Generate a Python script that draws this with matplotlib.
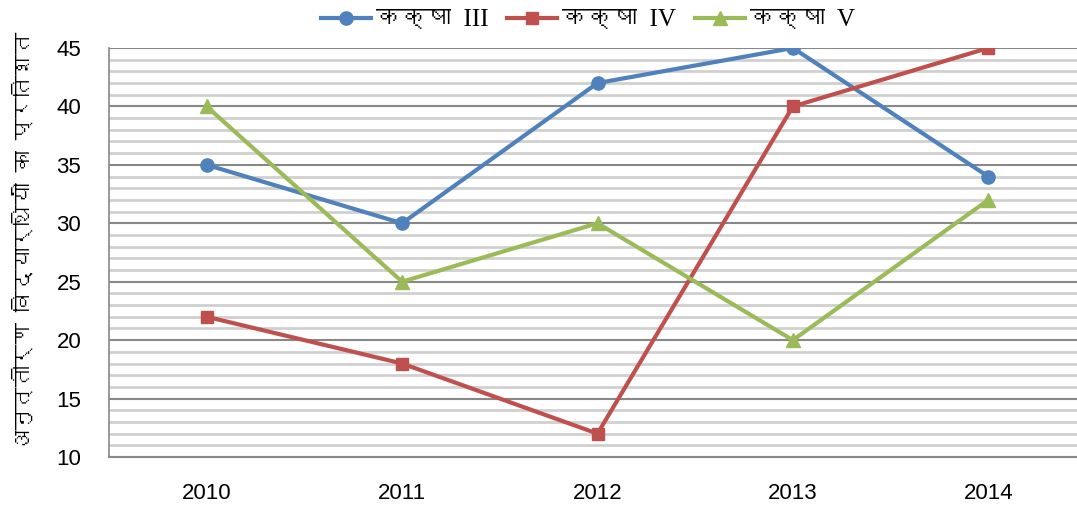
import matplotlib
matplotlib.use("Agg")
import matplotlib.pyplot as plt
from matplotlib import font_manager
from matplotlib.ft2font import FT2Font
from matplotlib.ticker import MultipleLocator

years = ["2010", "2011", "2012", "2013", "2014"]
class_iii = [35, 30, 42, 45, 34]
class_iv = [22, 18, 12, 40, 45]
class_v = [40, 25, 30, 20, 32]
labels = ["कक्षा  III", "कक्षा  IV", "कक्षा  V"]
ylabel = "अनुत्तीर्ण विद्यार्थियों का प्रतिशत"

# find a font with Devanagari glyphs
deva = None
for f in font_manager.fontManager.ttflist:
    try:
        cm = FT2Font(f.fname).get_charmap()
        if 0x0915 in cm and 0x0937 in cm:
            deva = f.name
            break
    except Exception:
        pass
deva_list = [deva] if deva else []
fam_leg = ["Liberation Serif"] + deva_list + ["DejaVu Sans"]
fam_lab = deva_list + ["DejaVu Sans"]

fig = plt.figure(figsize=(10.77, 5.08), dpi=100)
ax = fig.add_axes([109/1077, 1-457/508, 977/1077, (457-48)/508])

x = list(range(len(years)))
ax.plot(x, class_iii, color="#4F81BD", lw=3, marker="o", ms=9.5, label=labels[0], zorder=4)
ax.plot(x, class_iv, color="#C0504D", lw=3, marker="s", ms=8.5, label=labels[1], zorder=4)
ax.plot(x, class_v, color="#9BBB59", lw=3, marker="^", ms=9.5, label=labels[2], zorder=4)

ax.set_xlim(-0.5, 4.5)
ax.set_ylim(10, 45)
ax.yaxis.set_major_locator(MultipleLocator(5))
ax.yaxis.set_minor_locator(MultipleLocator(1))
ax.set_xticks(x)
ax.set_xticklabels(years)
ax.grid(which="minor", axis="y", color="#D0D0D0", lw=2.0, zorder=0)
ax.grid(which="major", axis="y", color="#888888", lw=1.5, zorder=1)
ax.tick_params(which="both", length=0, labelsize=16)
for t in ax.get_xticklabels() + ax.get_yticklabels():
    t.set_family(["Liberation Sans", "DejaVu Sans"])
ax.tick_params(axis="x", pad=19)
ax.tick_params(axis="y", pad=20)
for s in ["top", "right"]:
    ax.spines[s].set_visible(False)
ax.spines["left"].set_color("#888888")
ax.spines["bottom"].set_color("#888888")
ax.spines["left"].set_linewidth(1.2)
ax.spines["bottom"].set_linewidth(1.5)

ax.set_ylabel(ylabel, fontsize=15.5, family=fam_lab)
ax.yaxis.set_label_coords(-0.077, 0.528)

leg = fig.legend(loc="center", bbox_to_anchor=(588/1077, 1-20/508), ncol=3, frameon=False,
                 prop={"family": fam_leg, "size": 18}, handlelength=2.0, columnspacing=0.75,
                 handletextpad=0.2)

fig.savefig("out.png", dpi=100)
